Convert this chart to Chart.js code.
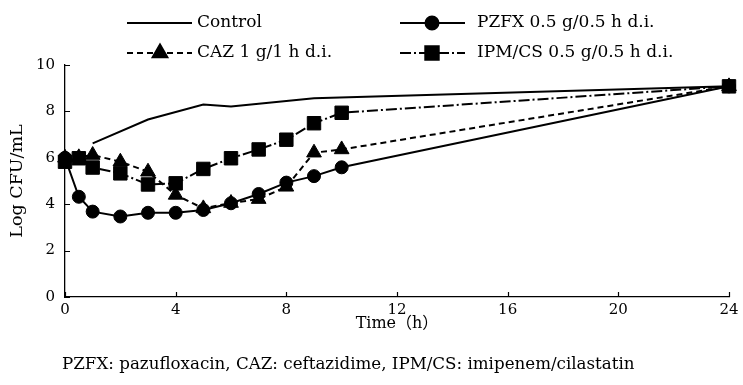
<!DOCTYPE html>
<html>
<head>
<meta charset="utf-8">
<script src="https://cdn.jsdelivr.net/npm/chart.js@4.4.0/dist/chart.umd.min.js"></script>
<style>
    html, body { margin: 0; padding: 0; background: #fff; }
    #killChart { display: block; }
</style>
</head>
<body>
<canvas id="killChart" width="743" height="385"></canvas>
<script>
// Time-kill curves (Log CFU/mL vs time in hours)
const controlTimes = [1, 3, 5, 6, 9, 24];
const controlValues = [6.62, 7.65, 8.30, 8.21, 8.57, 9.08];

const drugTimes = [0, 0.5, 1, 2, 3, 4, 5, 6, 7, 8, 9, 10, 24];
const pzfxValues = [6.00, 4.32, 3.68, 3.47, 3.63, 3.63, 3.75, 4.04, 4.44, 4.93, 5.21, 5.59, 9.08];
const cazValues = [6.00, 6.02, 6.12, 5.83, 5.40, 4.40, 3.82, 4.05, 4.22, 4.75, 6.22, 6.36, 9.08];
const ipmValues = [5.83, 5.98, 5.58, 5.33, 4.85, 4.90, 5.52, 5.98, 6.36, 6.78, 7.49, 7.94, 9.08];

const xTicks = [0, 4, 8, 12, 16, 20, 24];
const yTicks = [0, 2, 4, 6, 8, 10];

const footnote = 'PZFX: pazufloxacin, CAZ: ceftazidime, IPM/CS: imipenem/cilastatin';

const serif = '"DejaVu Serif", "Noto Sans CJK JP", serif';

function toPoints(times, values) {
    return times.map((t, i) => ({ x: t, y: values[i] }));
}

// Inner tick marks, legend and footnote
const decorPlugin = {
    id: 'decor',
    beforeDatasetsDraw(chart) {
        const ctx = chart.ctx;
        const xs = chart.scales.x;
        const ys = chart.scales.y;
        const area = chart.chartArea;
        ctx.save();
        ctx.strokeStyle = '#000';
        ctx.lineWidth = 1.2;
        ctx.beginPath();
        xTicks.forEach(v => {
            const px = Math.round(xs.getPixelForValue(v)) + 0.5;
            ctx.moveTo(px, area.bottom);
            ctx.lineTo(px, area.bottom - 5);
        });
        yTicks.forEach(v => {
            const py = Math.round(ys.getPixelForValue(v)) + 0.5;
            ctx.moveTo(area.left, py);
            ctx.lineTo(area.left + 5, py);
        });
        ctx.stroke();
        ctx.restore();
    },
    afterDraw(chart) {
        const ctx = chart.ctx;
        ctx.save();

        // legend: two columns, two rows
        const slots = [
            { ds: 0, x0: 127, x1: 192, mx: 160, tx: 197, y: 23 },
            { ds: 1, x0: 400, x1: 465, mx: 432, tx: 477, y: 23 },
            { ds: 2, x0: 127, x1: 192, mx: 160, tx: 197, y: 53 },
            { ds: 3, x0: 400, x1: 465, mx: 432, tx: 477, y: 53 }
        ];
        slots.forEach(s => {
            const d = chart.data.datasets[s.ds];
            ctx.strokeStyle = '#000';
            ctx.fillStyle = '#000';
            ctx.lineWidth = d.borderWidth;
            ctx.setLineDash(d.borderDash || []);
            ctx.beginPath();
            ctx.moveTo(s.x0, s.y);
            ctx.lineTo(s.x1, s.y);
            ctx.stroke();
            ctx.setLineDash([]);
            if (d.pointRadius > 0) {
                Chart.helpers.drawPoint(ctx, {
                    pointStyle: d.pointStyle,
                    radius: d.pointRadius,
                    rotation: 0,
                    borderWidth: 1
                }, s.mx, s.y);
            }
            ctx.font = '17px ' + serif;
            ctx.textBaseline = 'middle';
            ctx.textAlign = 'left';
            ctx.fillText(d.label, s.tx, s.y);
        });

        // footnote
        ctx.font = '16.7px ' + serif;
        ctx.textBaseline = 'middle';
        ctx.textAlign = 'left';
        ctx.fillStyle = '#000';
        ctx.fillText(footnote, 62, 365);
        ctx.restore();
    }
};

new Chart(document.getElementById('killChart'), {
    type: 'line',
    data: {
        datasets: [
            {
                label: 'Control',
                data: toPoints(controlTimes, controlValues),
                borderColor: '#000',
                borderWidth: 2,
                pointRadius: 0,
                pointStyle: 'circle',
                clip: false
            },
            {
                label: 'PZFX 0.5 g/0.5 h d.i.',
                data: toPoints(drugTimes, pzfxValues),
                borderColor: '#000',
                backgroundColor: '#000',
                borderWidth: 2,
                pointStyle: 'circle',
                pointRadius: 6.5,
                pointBorderWidth: 1,
                clip: false
            },
            {
                label: 'CAZ 1 g/1 h d.i.',
                data: toPoints(drugTimes, cazValues),
                borderColor: '#000',
                backgroundColor: '#000',
                borderWidth: 2,
                borderDash: [6, 4],
                pointStyle: 'triangle',
                pointRadius: 8.5,
                pointBorderWidth: 1,
                clip: false
            },
            {
                label: 'IPM/CS 0.5 g/0.5 h d.i.',
                data: toPoints(drugTimes, ipmValues),
                borderColor: '#000',
                backgroundColor: '#000',
                borderWidth: 2,
                borderDash: [11, 3, 2, 3],
                pointStyle: 'rect',
                pointRadius: 9.5,
                pointBorderWidth: 1,
                clip: false
            }
        ]
    },
    options: {
        responsive: false,
        animation: false,
        devicePixelRatio: 1,
        layout: {
            padding: { top: 65, right: 14, bottom: 52, left: 0 }
        },
        plugins: {
            legend: { display: false },
            tooltip: { enabled: false }
        },
        scales: {
            x: {
                type: 'linear',
                min: 0,
                max: 24,
                afterFit: function (scale) { scale.height = 36; },
                afterBuildTicks: function (scale) {
                    scale.ticks = xTicks.map(v => ({ value: v }));
                },
                border: { display: true, color: '#000', width: 1.3 },
                grid: { display: false, drawTicks: false },
                ticks: {
                    color: '#000',
                    padding: 4,
                    maxRotation: 0,
                    font: { family: serif, size: 15 }
                },
                title: {
                    display: true,
                    text: 'Time（h）',
                    color: '#000',
                    padding: { top: 0, bottom: 0 },
                    font: { family: serif, size: 16 }
                }
            },
            y: {
                min: 0,
                max: 10,
                afterFit: function (scale) { scale.width = 65; },
                afterBuildTicks: function (scale) {
                    scale.ticks = yTicks.map(v => ({ value: v }));
                },
                border: { display: true, color: '#000', width: 1.3 },
                grid: { display: false, drawTicks: false },
                ticks: {
                    color: '#000',
                    padding: 10,
                    font: { family: serif, size: 15 }
                },
                title: {
                    display: true,
                    text: 'Log CFU/mL',
                    color: '#000',
                    padding: { top: 7, bottom: 0 },
                    font: { family: serif, size: 17.5 }
                }
            }
        }
    },
    plugins: [decorPlugin]
});
</script>
</body>
</html>
